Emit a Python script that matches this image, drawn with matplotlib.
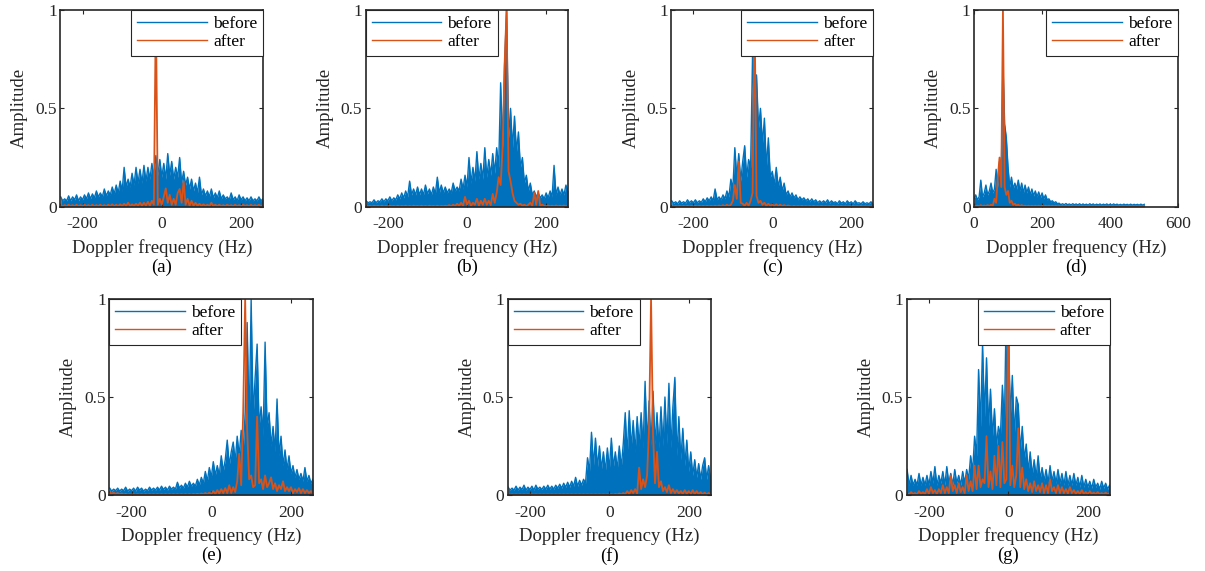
import matplotlib
matplotlib.use("Agg")
import matplotlib.pyplot as plt
import numpy as np

plt.rcParams['font.family'] = ['Liberation Serif', 'DejaVu Serif']
plt.rcParams['axes.unicode_minus'] = False

# frequency grids (Hz), 5 Hz steps
freq_sym = np.arange(-255, 256, 5)   # panels a, b, c, e, f, g
freq_d = np.arange(0, 501, 5)        # panel d

# ---- (a) ----
before_a = [0.05, 0.03, 0.04, 0.03, 0.055, 0.03, 0.05, 0.035, 0.06, 0.03,
            0.05, 0.035, 0.06, 0.04, 0.07, 0.04, 0.065, 0.045, 0.08, 0.05,
            0.07, 0.05, 0.09, 0.055, 0.08, 0.06, 0.10, 0.065, 0.11, 0.07,
            0.13, 0.08, 0.20, 0.10, 0.14, 0.10, 0.17, 0.11, 0.20, 0.12,
            0.19, 0.12, 0.21, 0.13, 0.20, 0.14, 0.22, 0.15, 0.26, 0.16,
            0.24, 0.15, 0.22, 0.14, 0.27, 0.16, 0.23, 0.14, 0.20, 0.15,
            0.25, 0.12, 0.18, 0.11, 0.15, 0.09, 0.14, 0.08, 0.12, 0.07,
            0.15, 0.06, 0.09, 0.055, 0.08, 0.05, 0.09, 0.045, 0.07, 0.045,
            0.08, 0.04, 0.06, 0.04, 0.05, 0.035, 0.07, 0.035, 0.05, 0.03,
            0.06, 0.035, 0.05, 0.03, 0.045, 0.03, 0.05, 0.03, 0.04, 0.03,
            0.05, 0.03, 0.04]
after_a = [0.01, 0.002, 0.008, 0.002, 0.01, 0.003, 0.008, 0.002, 0.01, 0.002,
           0.008, 0.002, 0.01, 0.003, 0.008, 0.002, 0.01, 0.002, 0.008, 0.003,
           0.01, 0.002, 0.008, 0.002, 0.01, 0.003, 0.012, 0.002, 0.01, 0.003,
           0.012, 0.003, 0.015, 0.004, 0.02, 0.003, 0.012, 0.004, 0.015, 0.005,
           0.02, 0.005, 0.02, 0.006, 0.025, 0.005, 0.03, 0.01, 1.0, 0.01,
           0.04, 0.01, 0.05, 0.093, 0.02, 0.06, 0.01, 0.04, 0.01, 0.07,
           0.09, 0.02, 0.13, 0.01, 0.04, 0.005, 0.03, 0.005, 0.02, 0.005,
           0.015, 0.003, 0.012, 0.003, 0.01, 0.002, 0.02, 0.003, 0.01, 0.002,
           0.01, 0.002, 0.008, 0.002, 0.01, 0.003, 0.008, 0.002, 0.01, 0.002,
           0.008, 0.002, 0.01, 0.003, 0.008, 0.002, 0.01, 0.002, 0.008, 0.003,
           0.01, 0.002, 0.008]

# ---- (b) ----
before_b = [0.03, 0.02, 0.025, 0.02, 0.035, 0.02, 0.03, 0.025, 0.04, 0.025,
            0.04, 0.03, 0.05, 0.03, 0.045, 0.035, 0.06, 0.04, 0.07, 0.045,
            0.08, 0.05, 0.13, 0.06, 0.09, 0.06, 0.10, 0.06, 0.09, 0.06,
            0.11, 0.065, 0.09, 0.06, 0.10, 0.065, 0.15, 0.07, 0.11, 0.07,
            0.10, 0.07, 0.09, 0.07, 0.12, 0.08, 0.10, 0.08, 0.14, 0.09,
            0.16, 0.10, 0.25, 0.12, 0.20, 0.13, 0.28, 0.14, 0.22, 0.14,
            0.30, 0.15, 0.24, 0.16, 0.27, 0.17, 0.30, 0.20, 0.63, 0.30,
            0.72, 1.0, 0.35, 0.50, 0.30, 0.46, 0.28, 0.38, 0.20, 0.25,
            0.12, 0.16, 0.08, 0.12, 0.06, 0.08, 0.05, 0.07, 0.045, 0.06,
            0.04, 0.07, 0.045, 0.08, 0.05, 0.21, 0.06, 0.10, 0.06, 0.09,
            0.06, 0.11, 0.08]
after_b = [0.005, 0.001, 0.004, 0.001, 0.005, 0.002, 0.004, 0.001, 0.005, 0.001,
           0.004, 0.001, 0.005, 0.002, 0.004, 0.001, 0.005, 0.001, 0.004, 0.002,
           0.005, 0.001, 0.004, 0.001, 0.005, 0.002, 0.004, 0.001, 0.005, 0.001,
           0.004, 0.001, 0.005, 0.002, 0.004, 0.001, 0.005, 0.001, 0.004, 0.002,
           0.005, 0.002, 0.008, 0.002, 0.01, 0.003, 0.015, 0.004, 0.02, 0.005,
           0.05, 0.01, 0.03, 0.005, 0.02, 0.01, 0.04, 0.005, 0.03, 0.01,
           0.04, 0.01, 0.03, 0.008, 0.065, 0.02, 0.07, 0.15, 0.11, 0.30,
           0.72, 1.0, 0.18, 0.13, 0.07, 0.03, 0.02, 0.01, 0.015, 0.005,
           0.01, 0.003, 0.01, 0.02, 0.005, 0.07, 0.01, 0.08, 0.005, 0.01,
           0.005, 0.002, 0.006, 0.002, 0.005, 0.002, 0.006, 0.002, 0.005, 0.002,
           0.006, 0.002, 0.005]

# ---- (c) ----
before_c = [0.03, 0.018, 0.025, 0.015, 0.03, 0.018, 0.025, 0.018, 0.035, 0.02,
            0.03, 0.02, 0.035, 0.02, 0.03, 0.022, 0.04, 0.025, 0.045, 0.03,
            0.05, 0.03, 0.09, 0.035, 0.05, 0.035, 0.06, 0.04, 0.08, 0.05,
            0.14, 0.09, 0.30, 0.15, 0.27, 0.13, 0.23, 0.31, 0.15, 0.24,
            0.20, 0.78, 0.45, 0.67, 0.40, 0.50, 0.32, 0.45, 0.20, 0.35,
            0.15, 0.18, 0.11, 0.20, 0.10, 0.15, 0.08, 0.12, 0.06, 0.08,
            0.05, 0.07, 0.045, 0.06, 0.035, 0.05, 0.035, 0.045, 0.03, 0.04,
            0.025, 0.04, 0.025, 0.035, 0.02, 0.03, 0.02, 0.03, 0.02, 0.035,
            0.018, 0.03, 0.02, 0.025, 0.015, 0.03, 0.018, 0.025, 0.015, 0.03,
            0.018, 0.025, 0.015, 0.03, 0.018, 0.02, 0.015, 0.025, 0.015, 0.02,
            0.015, 0.025, 0.015]
after_c = [0.004, 0.001, 0.004, 0.001, 0.004, 0.001, 0.004, 0.001, 0.004, 0.001,
           0.004, 0.001, 0.004, 0.001, 0.004, 0.001, 0.004, 0.001, 0.004, 0.001,
           0.004, 0.001, 0.005, 0.001, 0.006, 0.002, 0.008, 0.002, 0.01, 0.003,
           0.01, 0.03, 0.11, 0.04, 0.23, 0.02, 0.015, 0.005, 0.02, 0.005,
           0.03, 0.07, 1.0, 0.055, 0.02, 0.03, 0.01, 0.02, 0.005, 0.015,
           0.005, 0.01, 0.004, 0.012, 0.003, 0.01, 0.003, 0.008, 0.002, 0.006,
           0.003, 0.001, 0.004, 0.001, 0.003, 0.001, 0.004, 0.001, 0.003, 0.001,
           0.003, 0.001, 0.004, 0.001, 0.003, 0.001, 0.004, 0.001, 0.003, 0.001,
           0.003, 0.001, 0.004, 0.001, 0.003, 0.001, 0.004, 0.001, 0.003, 0.001,
           0.003, 0.001, 0.004, 0.001, 0.003, 0.001, 0.004, 0.001, 0.003, 0.001,
           0.003, 0.001, 0.003]

# ---- (d) ----
before_d = [0.04, 0.06, 0.035, 0.05, 0.135, 0.05, 0.07, 0.11, 0.06, 0.08,
            0.12, 0.07, 0.09, 0.19, 0.10, 0.23, 0.15, 0.73, 0.42, 0.35,
            0.20, 0.10, 0.15, 0.09, 0.12, 0.09, 0.135, 0.08, 0.12, 0.07,
            0.11, 0.07, 0.10, 0.06, 0.09, 0.055, 0.08, 0.05, 0.075, 0.045,
            0.07, 0.04, 0.06, 0.035, 0.04, 0.025, 0.03, 0.02, 0.025, 0.015,
            0.018, 0.01, 0.015, 0.01, 0.016, 0.01, 0.014, 0.009, 0.015, 0.01,
            0.014, 0.009, 0.015, 0.008, 0.014, 0.009, 0.013, 0.008, 0.015, 0.009,
            0.014, 0.008, 0.013, 0.009, 0.014, 0.008, 0.013, 0.009, 0.014, 0.008,
            0.013, 0.008, 0.014, 0.009, 0.013, 0.008, 0.012, 0.008, 0.013, 0.009,
            0.012, 0.008, 0.013, 0.008, 0.012, 0.009, 0.012, 0.008, 0.013, 0.008,
            0.012]
after_d = [0.005, 0.002, 0.006, 0.002, 0.008, 0.002, 0.006, 0.003, 0.008, 0.003,
           0.01, 0.004, 0.04, 0.02, 0.15, 0.25, 0.10, 1.0, 0.10, 0.06,
           0.08, 0.02, 0.03, 0.01, 0.015, 0.005, 0.01, 0.003, 0.008, 0.003,
           0.005, 0.002, 0.005, 0.002, 0.005, 0.002, 0.005, 0.002, 0.005, 0.002,
           0.005, 0.002, 0.005, 0.002, 0.005, 0.002, 0.005, 0.002, 0.005, 0.002,
           0.004, 0.002, 0.004, 0.002, 0.004, 0.002, 0.004, 0.002, 0.004, 0.002,
           0.004, 0.002, 0.004, 0.002, 0.004, 0.002, 0.004, 0.002, 0.004, 0.002,
           0.004, 0.002, 0.004, 0.002, 0.004, 0.002, 0.004, 0.002, 0.004, 0.002,
           0.004, 0.002, 0.004, 0.002, 0.004, 0.002, 0.004, 0.002, 0.004, 0.002,
           0.004, 0.002, 0.004, 0.002, 0.004, 0.002, 0.004, 0.002, 0.004, 0.002,
           0.004]

# ---- (e) ----
before_e = [0.035, 0.02, 0.03, 0.022, 0.035, 0.02, 0.03, 0.022, 0.04, 0.02,
            0.03, 0.022, 0.035, 0.02, 0.04, 0.025, 0.035, 0.02, 0.03, 0.022,
            0.04, 0.025, 0.035, 0.025, 0.04, 0.025, 0.045, 0.028, 0.04, 0.025,
            0.045, 0.03, 0.04, 0.03, 0.065, 0.035, 0.05, 0.035, 0.06, 0.04,
            0.07, 0.045, 0.06, 0.045, 0.08, 0.05, 0.09, 0.06, 0.12, 0.07,
            0.14, 0.09, 0.17, 0.10, 0.15, 0.10, 0.20, 0.12, 0.18, 0.28,
            0.15, 0.22, 0.27, 0.17, 0.30, 0.20, 0.33, 0.22, 0.42, 0.88,
            0.35, 1.0, 0.40, 0.60, 0.77, 0.35, 0.45, 0.30, 0.78, 0.35,
            0.42, 0.25, 0.35, 0.22, 0.49, 0.20, 0.30, 0.15, 0.23, 0.13,
            0.20, 0.11, 0.15, 0.09, 0.13, 0.08, 0.11, 0.07, 0.14, 0.07,
            0.10, 0.06, 0.08]
after_e = [0.015, 0.005, 0.012, 0.004, 0.01, 0.003, 0.008, 0.002, 0.006, 0.002,
           0.004, 0.001, 0.004, 0.001, 0.004, 0.001, 0.004, 0.001, 0.004, 0.001,
           0.004, 0.001, 0.004, 0.001, 0.004, 0.001, 0.004, 0.001, 0.004, 0.001,
           0.004, 0.001, 0.004, 0.001, 0.004, 0.001, 0.004, 0.001, 0.004, 0.001,
           0.004, 0.001, 0.005, 0.002, 0.006, 0.002, 0.008, 0.003, 0.01, 0.003,
           0.012, 0.004, 0.02, 0.005, 0.025, 0.008, 0.03, 0.01, 0.035, 0.01,
           0.05, 0.01, 0.04, 0.015, 0.07, 0.21, 0.05, 0.42, 1.0, 0.33,
           0.08, 0.10, 0.04, 0.05, 0.40, 0.06, 0.08, 0.03, 0.10, 0.04,
           0.06, 0.09, 0.03, 0.06, 0.02, 0.05, 0.03, 0.07, 0.02, 0.04,
           0.02, 0.04, 0.01, 0.03, 0.015, 0.035, 0.01, 0.03, 0.01, 0.025,
           0.01, 0.02, 0.01]

# ---- (f) ----
before_f = [0.04, 0.025, 0.035, 0.025, 0.045, 0.025, 0.04, 0.028, 0.05, 0.025,
            0.04, 0.028, 0.045, 0.025, 0.05, 0.03, 0.04, 0.028, 0.045, 0.03,
            0.05, 0.03, 0.045, 0.03, 0.05, 0.035, 0.055, 0.035, 0.06, 0.04,
            0.065, 0.04, 0.07, 0.045, 0.09, 0.045, 0.075, 0.05, 0.08, 0.06,
            0.19, 0.12, 0.32, 0.15, 0.29, 0.14, 0.25, 0.13, 0.22, 0.12,
            0.24, 0.13, 0.29, 0.14, 0.22, 0.13, 0.25, 0.14, 0.26, 0.42,
            0.20, 0.43, 0.24, 0.38, 0.22, 0.40, 0.25, 0.42, 0.24, 0.58,
            0.26, 0.48, 0.25, 0.53, 0.26, 0.42, 0.24, 0.45, 0.25, 0.50,
            0.26, 0.57, 0.24, 0.45, 0.60, 0.20, 0.40, 0.18, 0.34, 0.15,
            0.28, 0.12, 0.22, 0.10, 0.18, 0.09, 0.16, 0.08, 0.15, 0.19,
            0.08, 0.15, 0.08]
after_f = [0.003, 0.001, 0.003, 0.001, 0.003, 0.001, 0.003, 0.001, 0.003, 0.001,
           0.003, 0.001, 0.003, 0.001, 0.003, 0.001, 0.003, 0.001, 0.003, 0.001,
           0.003, 0.001, 0.003, 0.001, 0.003, 0.001, 0.003, 0.001, 0.003, 0.001,
           0.003, 0.001, 0.003, 0.001, 0.003, 0.001, 0.003, 0.001, 0.003, 0.001,
           0.003, 0.001, 0.003, 0.001, 0.003, 0.001, 0.003, 0.001, 0.003, 0.001,
           0.003, 0.001, 0.004, 0.001, 0.005, 0.002, 0.008, 0.003, 0.01, 0.004,
           0.02, 0.005, 0.025, 0.01, 0.03, 0.008, 0.14, 0.03, 0.08, 0.04,
           0.10, 0.34, 1.0, 0.31, 0.06, 0.22, 0.04, 0.07, 0.02, 0.04,
           0.015, 0.05, 0.01, 0.03, 0.01, 0.025, 0.008, 0.02, 0.006, 0.025,
           0.006, 0.02, 0.005, 0.025, 0.004, 0.02, 0.004, 0.015, 0.003, 0.012,
           0.003, 0.01, 0.003]

# ---- (g) ----
before_g = [0.13, 0.05, 0.10, 0.05, 0.08, 0.05, 0.11, 0.05, 0.09, 0.05,
            0.10, 0.05, 0.12, 0.06, 0.145, 0.05, 0.10, 0.06, 0.12, 0.05,
            0.145, 0.06, 0.11, 0.05, 0.13, 0.06, 0.10, 0.05, 0.12, 0.06,
            0.13, 0.08, 0.20, 0.12, 0.30, 0.20, 0.64, 0.35, 0.77, 0.40,
            0.70, 0.35, 0.54, 0.30, 0.44, 0.25, 0.35, 0.30, 0.56, 0.35,
            1.0, 0.85, 0.40, 0.61, 0.30, 0.50, 0.46, 0.22, 0.35, 0.18,
            0.26, 0.12, 0.22, 0.10, 0.18, 0.09, 0.20, 0.08, 0.14, 0.07,
            0.13, 0.06, 0.15, 0.07, 0.12, 0.06, 0.13, 0.06, 0.11, 0.05,
            0.12, 0.05, 0.10, 0.05, 0.11, 0.05, 0.09, 0.04, 0.10, 0.04,
            0.08, 0.04, 0.07, 0.035, 0.08, 0.04, 0.06, 0.03, 0.07, 0.035,
            0.06, 0.03, 0.05]
after_g = [0.01, 0.003, 0.015, 0.004, 0.01, 0.003, 0.02, 0.005, 0.015, 0.004,
           0.03, 0.005, 0.04, 0.01, 0.025, 0.005, 0.03, 0.01, 0.05, 0.01,
           0.04, 0.01, 0.10, 0.02, 0.05, 0.01, 0.06, 0.015, 0.04, 0.01,
           0.10, 0.02, 0.07, 0.02, 0.15, 0.03, 0.15, 0.04, 0.08, 0.06,
           0.30, 0.04, 0.12, 0.03, 0.20, 0.05, 0.25, 0.04, 0.27, 0.06,
           0.08, 1.0, 0.05, 0.15, 0.04, 0.10, 0.34, 0.04, 0.14, 0.03,
           0.08, 0.02, 0.06, 0.015, 0.07, 0.02, 0.05, 0.015, 0.06, 0.01,
           0.05, 0.01, 0.08, 0.02, 0.04, 0.01, 0.05, 0.01, 0.04, 0.01,
           0.03, 0.008, 0.04, 0.01, 0.025, 0.006, 0.02, 0.005, 0.025, 0.005,
           0.015, 0.004, 0.02, 0.005, 0.012, 0.003, 0.015, 0.004, 0.01, 0.003,
           0.012, 0.003, 0.01]

letters = ['(a)', '(b)', '(c)', '(d)', '(e)', '(f)', '(g)']
legend_locs = ['upper right', 'upper left', 'upper right', 'upper right',
               'upper left', 'upper left', 'upper right']

blue = '#0072BD'
orange = '#D95319'
dark = '#262626'

panels = [
    (freq_sym, before_a, after_a),
    (freq_sym, before_b, after_b),
    (freq_sym, before_c, after_c),
    (freq_d, before_d, after_d),
    (freq_sym, before_e, after_e),
    (freq_sym, before_f, after_f),
    (freq_sym, before_g, after_g),
]

# axes positions in pixels: left, bottom edge (from top), width, height
W, H = 1205, 571
boxes = [
    (60.3, 206.7, 203.0, 196.7),
    (365.7, 206.7, 202.6, 196.7),
    (671.3, 206.7, 202.0, 196.7),
    (974.0, 206.7, 204.3, 196.7),
    (109.3, 495.0, 204.0, 196.0),
    (507.7, 495.0, 203.3, 196.0),
    (906.7, 495.0, 203.3, 196.0),
]

fig = plt.figure(figsize=(W / 100, H / 100), dpi=100)

for k, (freq, bef, aft) in enumerate(panels):
    x0, yb, w, h = boxes[k]
    ax = fig.add_axes([x0 / W, (H - yb) / H, w / W, h / H])
    # dense "before" spectrum: filled under the trace
    ax.fill_between(freq, 0, bef, color=blue, lw=0)
    ax.plot(freq, bef, color=blue, lw=1.0, label='before')
    ax.plot(freq, aft, color=orange, lw=1.3, label='after')

    if k == 3:
        ax.set_xlim(0, 600)
        ax.set_xticks([0, 200, 400, 600])
    else:
        ax.set_xlim(-256, 256)
        ax.set_xticks([-200, 0, 200])
    ax.set_ylim(0, 1)
    ax.set_yticks([0, 0.5, 1])
    ax.set_yticklabels(['0', '0.5', '1'])

    ax.tick_params(direction='in', top=True, right=True, length=3, width=0.8,
                   labelsize=12.5, colors=dark)
    ax.tick_params(axis='x', pad=7)
    ax.tick_params(axis='y', pad=2.5)
    for s in ax.spines.values():
        s.set_linewidth(1.2)
        s.set_color(dark)
        s.set_zorder(5)

    ax.set_xlabel('Doppler frequency (Hz)', fontsize=13.5, color=dark)
    ax.set_ylabel('Amplitude', fontsize=13.5, color=dark)
    ax.xaxis.set_label_coords(0.5, -0.163)
    ax.yaxis.set_label_coords(-0.158, 0.5)
    ax.text(0.5, -0.31, letters[k], transform=ax.transAxes, ha='center',
            va='center', fontsize=13.5, color='black')

    leg = ax.legend(loc=legend_locs[k], fontsize=12.5, borderaxespad=0,
                    handlelength=4.0, handletextpad=0.35, borderpad=0.35,
                    labelspacing=0.1, fancybox=False, framealpha=1,
                    edgecolor=dark)
    leg.get_frame().set_linewidth(0.8)
    for ln in leg.get_lines():
        ln.set_linewidth(1.0)
    for t in leg.get_texts():
        t.set_color('black')

fig.savefig('out.png', dpi=100)
